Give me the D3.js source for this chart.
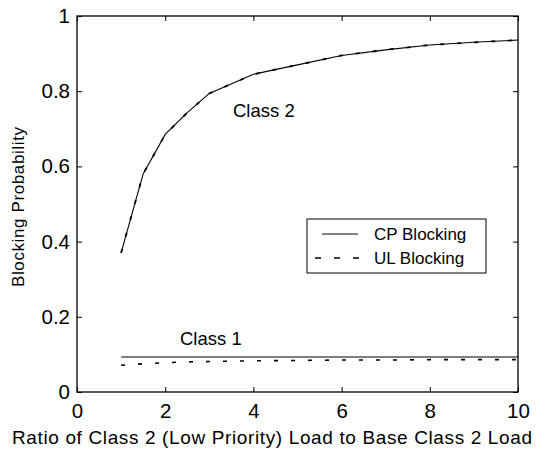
<!DOCTYPE html>
<html lang="en">
<head>
<meta charset="UTF-8">
<title>Blocking Probability</title>
<script src="https://d3js.org/d3.v7.min.js"></script>
<style>
	body { margin: 0; background: white; }
	text { font-family: 'Liberation Sans', Arial, Helvetica, sans-serif; fill: #000; }
</style>
</head>
<body>
<div id="chart"></div>
<script>
	// data
	const loadRatio  = [1, 1.5, 2, 2.5, 3, 4, 5, 6, 7, 8, 9, 10];
	const cpClass2   = [0.37, 0.58, 0.685, 0.743, 0.794, 0.845, 0.87, 0.895, 0.91, 0.923, 0.93, 0.936];
	const ulClass2   = [0.37, 0.58, 0.685, 0.743, 0.794, 0.845, 0.87, 0.895, 0.91, 0.923, 0.93, 0.936];
	const cpClass1   = [0.093, 0.093, 0.093, 0.093, 0.093, 0.093, 0.093, 0.093, 0.093, 0.093, 0.093, 0.093];
	const ulClass1   = [0.071, 0.075, 0.078, 0.080, 0.081, 0.083, 0.084, 0.085, 0.085, 0.086, 0.086, 0.086];
	const xTicks = [0, 2, 4, 6, 8, 10];
	const yTicks = [0, 0.2, 0.4, 0.6, 0.8, 1];

	const width = 540, height = 451;
	const plotLeft = 77, plotRight = 518, plotTop = 16, plotBottom = 392;

	const svg = d3.select("#chart").append("svg")
		.attr("width", width)
		.attr("height", height);

	const x = d3.scaleLinear().domain([0, 10]).range([plotLeft, plotRight]);
	const y = d3.scaleLinear().domain([0, 1]).range([plotBottom, plotTop]);

	// axes, ticks pointing inwards, mirrored on top / right
	svg.append("g")
		.attr("transform", "translate(0," + plotBottom + ")")
		.call(d3.axisBottom(x).tickValues(xTicks).tickSizeInner(-5).tickSizeOuter(0).tickPadding(11).tickFormat(d3.format("d")))
		.call(g => g.select(".domain").remove())
		.call(g => g.selectAll("text").attr("font-size", 20.5).attr("dy", "0.71em"));
	svg.append("g")
		.attr("transform", "translate(" + plotLeft + ",0)")
		.call(d3.axisLeft(y).tickValues(yTicks).tickSizeInner(-5).tickSizeOuter(0).tickPadding(7).tickFormat(d => d === 0 || d === 1 ? d3.format("d")(d) : d3.format(".1f")(d)))
		.call(g => g.select(".domain").remove())
		.call(g => g.selectAll("text").attr("font-size", 20.5));
	svg.append("g")
		.attr("transform", "translate(0," + plotTop + ")")
		.call(d3.axisTop(x).tickValues(xTicks).tickSizeInner(-5).tickSizeOuter(0).tickFormat(""))
		.call(g => g.select(".domain").remove());
	svg.append("g")
		.attr("transform", "translate(" + plotRight + ",0)")
		.call(d3.axisRight(y).tickValues(yTicks).tickSizeInner(-5).tickSizeOuter(0).tickFormat(""))
		.call(g => g.select(".domain").remove());

	svg.append("rect")
		.attr("x", plotLeft).attr("y", plotTop)
		.attr("width", plotRight - plotLeft).attr("height", plotBottom - plotTop)
		.attr("fill", "none").attr("stroke", "#000").attr("stroke-width", 1.3);

	const line = d3.line()
		.x(d => x(d[0]))
		.y(d => y(d[1]));

	function series(vals) { return loadRatio.map((r, i) => [r, vals[i]]); }

	svg.append("path").datum(series(cpClass2)).attr("d", line)
		.attr("fill", "none").attr("stroke", "#000").attr("stroke-width", 1.1);
	svg.append("path").datum(series(ulClass2)).attr("d", line)
		.attr("fill", "none").attr("stroke", "#000").attr("stroke-width", 1.8).attr("stroke-dasharray", "4,13");
	svg.append("path").datum(series(cpClass1)).attr("d", line)
		.attr("fill", "none").attr("stroke", "#000").attr("stroke-width", 1.1);
	svg.append("path").datum(series(ulClass1)).attr("d", line)
		.attr("fill", "none").attr("stroke", "#000").attr("stroke-width", 1.6).attr("stroke-dasharray", "4,13");

	// labels
	svg.append("text").attr("x", 233).attr("y", 117).attr("font-size", 18.5).text("Class 2");
	svg.append("text").attr("x", 180).attr("y", 345).attr("font-size", 18.5).text("Class 1");

	svg.append("text")
		.attr("x", 272).attr("y", 444)
		.attr("text-anchor", "middle").attr("font-size", 19)
		.attr("textLength", 520).attr("lengthAdjust", "spacing")
		.text("Ratio of Class 2 (Low Priority) Load to Base Class 2 Load");
	svg.append("text")
		.attr("transform", "translate(24,207) rotate(-90)")
		.attr("text-anchor", "middle").attr("font-size", 17)
		.attr("textLength", 160).attr("lengthAdjust", "spacing")
		.text("Blocking Probability");

	// legend
	const legend = svg.append("g").attr("transform", "translate(307,219)");
	legend.append("rect").attr("width", 179).attr("height", 54)
		.attr("fill", "white").attr("stroke", "#000").attr("stroke-width", 1);
	legend.append("line").attr("x1", 15).attr("x2", 51).attr("y1", 15).attr("y2", 15)
		.attr("stroke", "#000").attr("stroke-width", 1);
	legend.append("line").attr("x1", 8).attr("x2", 53).attr("y1", 39).attr("y2", 39)
		.attr("stroke", "#000").attr("stroke-width", 1.6).attr("stroke-dasharray", "6,13");
	legend.append("text").attr("x", 67).attr("y", 21).attr("font-size", 17).text("CP Blocking");
	legend.append("text").attr("x", 67).attr("y", 45).attr("font-size", 17).text("UL Blocking");
</script>
</body>
</html>
